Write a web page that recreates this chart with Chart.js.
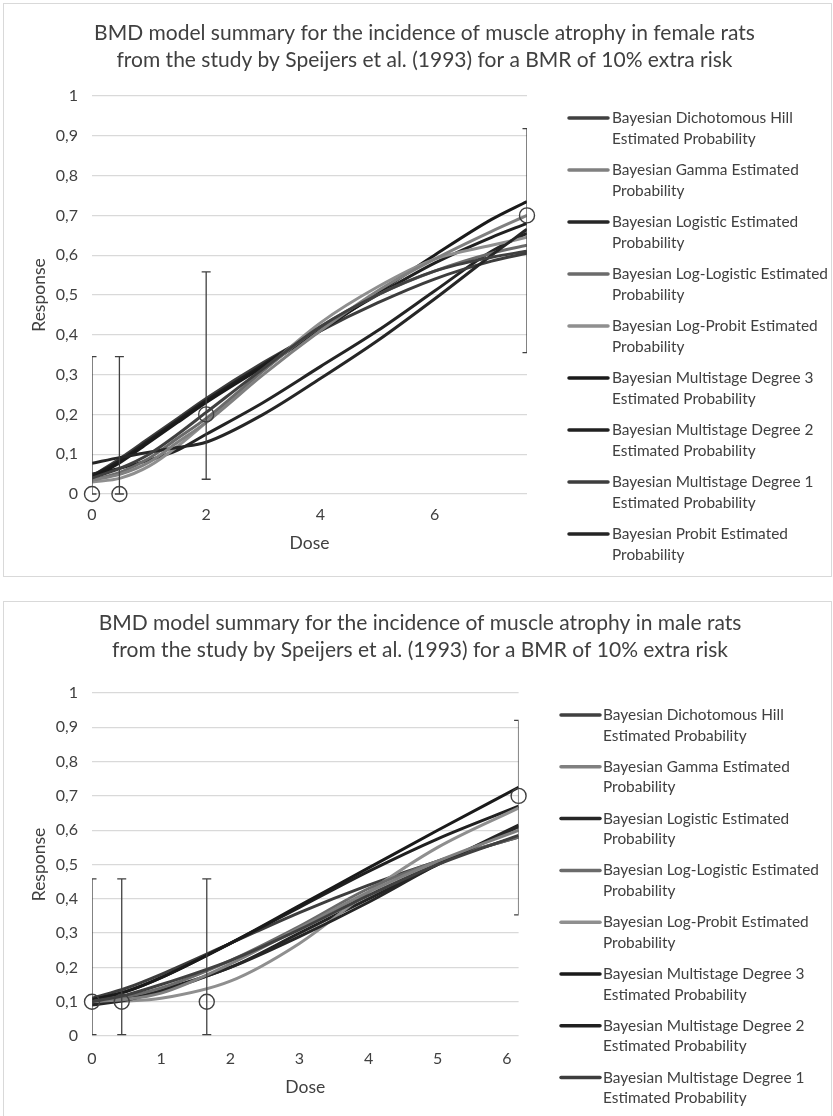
<!DOCTYPE html>
<html>
<head>
<meta charset="utf-8">
<script src="https://cdn.jsdelivr.net/npm/chart.js@4.4.1/dist/chart.umd.min.js"></script>
<style>
  html, body { margin: 0; padding: 0; background: #fff; width: 833px; height: 1116px; overflow: hidden; }
  .box { position: absolute; left: 3px; width: 829px; border: 1px solid #d9d9d9; box-sizing: border-box; }
  .box canvas { position: absolute; left: -1px; top: -1px; }
</style>
</head>
<body>
<div class="box" style="top:3px;height:574px"><canvas id="female" width="829" height="574"></canvas></div>
<div class="box" style="top:601px;height:520px"><canvas id="male" width="829" height="520"></canvas></div>
<script>
// legend labels, split the way the reference wraps them
const modelLegend = [
  ['Bayesian Dichotomous Hill', 'Estimated Probability'],
  ['Bayesian Gamma Estimated', 'Probability'],
  ['Bayesian Logistic Estimated', 'Probability'],
  ['Bayesian Log-Logistic Estimated', 'Probability'],
  ['Bayesian Log-Probit Estimated', 'Probability'],
  ['Bayesian Multistage Degree 3', 'Estimated Probability'],
  ['Bayesian Multistage Degree 2', 'Estimated Probability'],
  ['Bayesian Multistage Degree 1', 'Estimated Probability'],
  ['Bayesian Probit Estimated', 'Probability']
];
const modelColors = ['#404040', '#808080', '#262626', '#6b6b6b', '#8f8f8f', '#1a1a1a', '#202020', '#3d3d3d', '#242424'];

// female rats
const femaleTitle = ['BMD model summary for the incidence of muscle atrophy in female rats',
                     'from the study by Speijers et al. (1993) for a BMR of 10% extra risk'];
const femaleDose = [0, 0.48, 2, 7.62];
const femaleObserved = [0, 0, 0.2, 0.7];
const femaleLower = [0, 0, 0.037, 0.355];
const femaleUpper = [0.345, 0.345, 0.558, 0.918];
const femaleGrid = [0, 0.5, 1, 1.5, 2, 3, 4, 5, 6, 7, 7.62];
const femaleHill        = [0.04, 0.065, 0.10, 0.15, 0.205, 0.315, 0.42, 0.50, 0.56, 0.595, 0.61];
const femaleGamma       = [0.035, 0.05, 0.08, 0.13, 0.18, 0.30, 0.41, 0.51, 0.59, 0.66, 0.70];
const femaleLogistic    = [0.077, 0.092, 0.105, 0.117, 0.13, 0.20, 0.29, 0.385, 0.49, 0.60, 0.665];
const femaleLogLogistic = [0.035, 0.055, 0.09, 0.14, 0.19, 0.31, 0.42, 0.50, 0.56, 0.605, 0.625];
const femaleLogProbit   = [0.03, 0.04, 0.07, 0.12, 0.18, 0.31, 0.43, 0.52, 0.59, 0.625, 0.645];
const femaleMS3         = [0.04, 0.08, 0.13, 0.18, 0.23, 0.32, 0.41, 0.505, 0.60, 0.69, 0.735];
const femaleMS2         = [0.045, 0.085, 0.135, 0.185, 0.235, 0.325, 0.415, 0.50, 0.58, 0.645, 0.68];
const femaleMS1         = [0.045, 0.09, 0.14, 0.19, 0.24, 0.33, 0.41, 0.48, 0.54, 0.585, 0.605];
const femaleProbit      = [0.05, 0.065, 0.085, 0.11, 0.15, 0.23, 0.32, 0.41, 0.51, 0.61, 0.655];

// male rats
const maleTitle = ['BMD model summary for the incidence of muscle atrophy in male rats',
                   'from the study by Speijers et al. (1993) for a BMR of 10% extra risk'];
const maleDose = [0, 0.43, 1.66, 6.17];
const maleObserved = [0.1, 0.1, 0.1, 0.7];
const maleLower = [0.004, 0.004, 0.004, 0.353];
const maleUpper = [0.458, 0.458, 0.458, 0.92];
const maleGrid = [0, 0.5, 1, 2, 3, 4, 5, 6.17];
const maleHill        = [0.10, 0.12, 0.15, 0.22, 0.31, 0.41, 0.50, 0.585];
const maleGamma       = [0.10, 0.107, 0.125, 0.21, 0.315, 0.42, 0.51, 0.60];
const maleLogistic    = [0.09, 0.105, 0.13, 0.20, 0.29, 0.39, 0.50, 0.61];
const maleLogLogistic = [0.10, 0.115, 0.14, 0.22, 0.32, 0.43, 0.51, 0.58];
const maleLogProbit   = [0.10, 0.102, 0.11, 0.16, 0.27, 0.42, 0.55, 0.665];
const maleMS3         = [0.105, 0.13, 0.17, 0.27, 0.38, 0.49, 0.60, 0.725];
const maleMS2         = [0.105, 0.13, 0.17, 0.27, 0.375, 0.48, 0.575, 0.67];
const maleMS1         = [0.11, 0.14, 0.18, 0.27, 0.36, 0.44, 0.51, 0.58];
const maleProbit      = [0.095, 0.11, 0.135, 0.20, 0.30, 0.40, 0.50, 0.615];

const FONT = 'Lato, "Open Sans", sans-serif';
const TEXT = '#404040';

function fmt(v) {
  return String(Math.round(v * 10) / 10).replace('.', ',');
}

// error bars, clipped left/right to the plot like excel does
const errorBars = {
  id: 'errorBars',
  afterDatasetsDraw(chart) {
    const ds = chart.data.datasets[0];
    const xs = chart.scales.x, ys = chart.scales.y, a = chart.chartArea;
    const ctx = chart.ctx;
    ctx.save();
    ctx.beginPath();
    ctx.rect(a.left, 0, a.right - a.left, chart.height);
    ctx.clip();
    ctx.strokeStyle = '#404040';
    ctx.lineWidth = 1.3;
    ds.data.forEach((p, i) => {
      const x = xs.getPixelForValue(p.x);
      const lo = ys.getPixelForValue(ds.errLo[i]);
      const hi = ys.getPixelForValue(ds.errHi[i]);
      ctx.beginPath();
      ctx.moveTo(x, lo); ctx.lineTo(x, hi);
      ctx.moveTo(x - 4.5, lo); ctx.lineTo(x + 4.5, lo);
      ctx.moveTo(x - 4.5, hi); ctx.lineTo(x + 4.5, hi);
      ctx.stroke();
    });
    ctx.restore();
  }
};

// two-line legend on the right
const wrapLegend = {
  id: 'wrapLegend',
  afterDraw(chart, args, o) {
    const ctx = chart.ctx;
    ctx.save();
    ctx.font = o.fontSize + 'px ' + FONT;
    ctx.textBaseline = 'middle';
    ctx.textAlign = 'left';
    chart.data.datasets.forEach((ds, i) => {
      if (!ds.legendLines) return;
      const y = o.top + (i - 1) * o.step;
      ctx.strokeStyle = ds.borderColor;
      ctx.lineWidth = 3.5;
      ctx.lineCap = 'round';
      ctx.beginPath();
      ctx.moveTo(o.lineX0, y); ctx.lineTo(o.lineX1, y);
      ctx.stroke();
      ctx.fillStyle = TEXT;
      ds.legendLines.forEach((t, k) => ctx.fillText(t, o.textX, y + k * o.lineGap));
    });
    ctx.restore();
  }
};

function buildChart(id, d) {
  const datasets = [{
    label: 'Observed',
    data: d.dose.map((x, i) => ({ x: x, y: d.obs[i] })),
    errLo: d.lo, errHi: d.hi,
    showLine: false,
    pointRadius: 7.5, pointHoverRadius: 7.5,
    pointBorderWidth: 1.4,
    pointBorderColor: '#404040',
    pointBackgroundColor: 'rgba(0,0,0,0)',
    clip: false
  }];
  d.models.forEach((vals, k) => {
    datasets.push({
      label: modelLegend[k].join(' '),
      legendLines: modelLegend[k],
      data: d.grid.map((x, i) => ({ x: x, y: vals[i] })),
      borderColor: modelColors[k],
      borderWidth: 3,
      pointRadius: 0,
      cubicInterpolationMode: 'monotone',
      fill: false
    });
  });

  return new Chart(document.getElementById(id), {
    type: 'line',
    data: { datasets: datasets },
    plugins: [errorBars, wrapLegend],
    options: {
      responsive: false,
      animation: false,
      events: [],
      layout: { padding: { left: d.padLeft, right: 0, top: 0, bottom: 0 } },
      plugins: {
        legend: { display: false },
        tooltip: { enabled: false },
        title: {
          display: true,
          text: d.title,
          color: TEXT,
          font: { family: FONT, size: 21, weight: 'normal', lineHeight: 27 / 21 },
          padding: { top: d.titleTop, bottom: d.titleBottom }
        },
        wrapLegend: d.legend
      },
      scales: {
        x: {
          type: 'linear',
          min: 0, max: d.xMax,
          grid: { display: false, drawTicks: false },
          border: { display: false },
          ticks: { stepSize: d.xStep, includeBounds: false, padding: d.xTickPad, color: TEXT, font: { family: FONT, size: 16 } },
          title: { display: true, text: 'Dose', color: TEXT, font: { family: FONT, size: 17.5 }, padding: { top: 0, bottom: 23.5 } },
          afterFit(s) { s.height = d.xHeight; }
        },
        y: {
          min: 0, max: 1,
          grid: { color: '#d9d9d9', lineWidth: 1.3, drawTicks: false },
          border: { display: false },
          ticks: { stepSize: 0.1, padding: 14, color: TEXT, font: { family: FONT, size: 16 }, callback: v => fmt(v) },
          title: { display: true, text: 'Response', color: TEXT, font: { family: FONT, size: 17.5 }, padding: { top: d.yTitlePad, bottom: 0 } },
          afterFit(s) { s.width = d.yWidth; }
        },
        yR: {
          position: 'right',
          grid: { display: false, drawTicks: false },
          border: { display: false },
          ticks: { display: false },
          afterFit(s) { s.width = d.rightSpace; }
        }
      }
    }
  });
}

buildChart('female', {
  title: femaleTitle,
  dose: femaleDose, obs: femaleObserved, lo: femaleLower, hi: femaleUpper,
  grid: femaleGrid,
  models: [femaleHill, femaleGamma, femaleLogistic, femaleLogLogistic, femaleLogProbit,
           femaleMS3, femaleMS2, femaleMS1, femaleProbit],
  xMax: 7.62, xStep: 2,
  padLeft: 14, yWidth: 75, yTitlePad: 11.5, rightSpace: 305,
  titleTop: 16.5, titleBottom: 22.5,
  xHeight: 83, xTickPad: 11,
  legend: { top: 115, step: 52, lineGap: 20.7, lineX0: 566, lineX1: 605, textX: 609, fontSize: 15.4 }
});

buildChart('male', {
  title: maleTitle,
  dose: maleDose, obs: maleObserved, lo: maleLower, hi: maleUpper,
  grid: maleGrid,
  models: [maleHill, maleGamma, maleLogistic, maleLogLogistic, maleLogProbit,
           maleMS3, maleMS2, maleMS1, maleProbit],
  xMax: 6.17, xStep: 1,
  padLeft: 5, yWidth: 84, yTitlePad: 21, rightSpace: 313.4,
  titleTop: 8.5, titleBottom: 29.5,
  xHeight: 85, xTickPad: 13,
  legend: { top: 114, step: 51.8, lineGap: 20.7, lineX0: 558, lineX1: 597, textX: 600, fontSize: 15.4 }
});
</script>
</body>
</html>
